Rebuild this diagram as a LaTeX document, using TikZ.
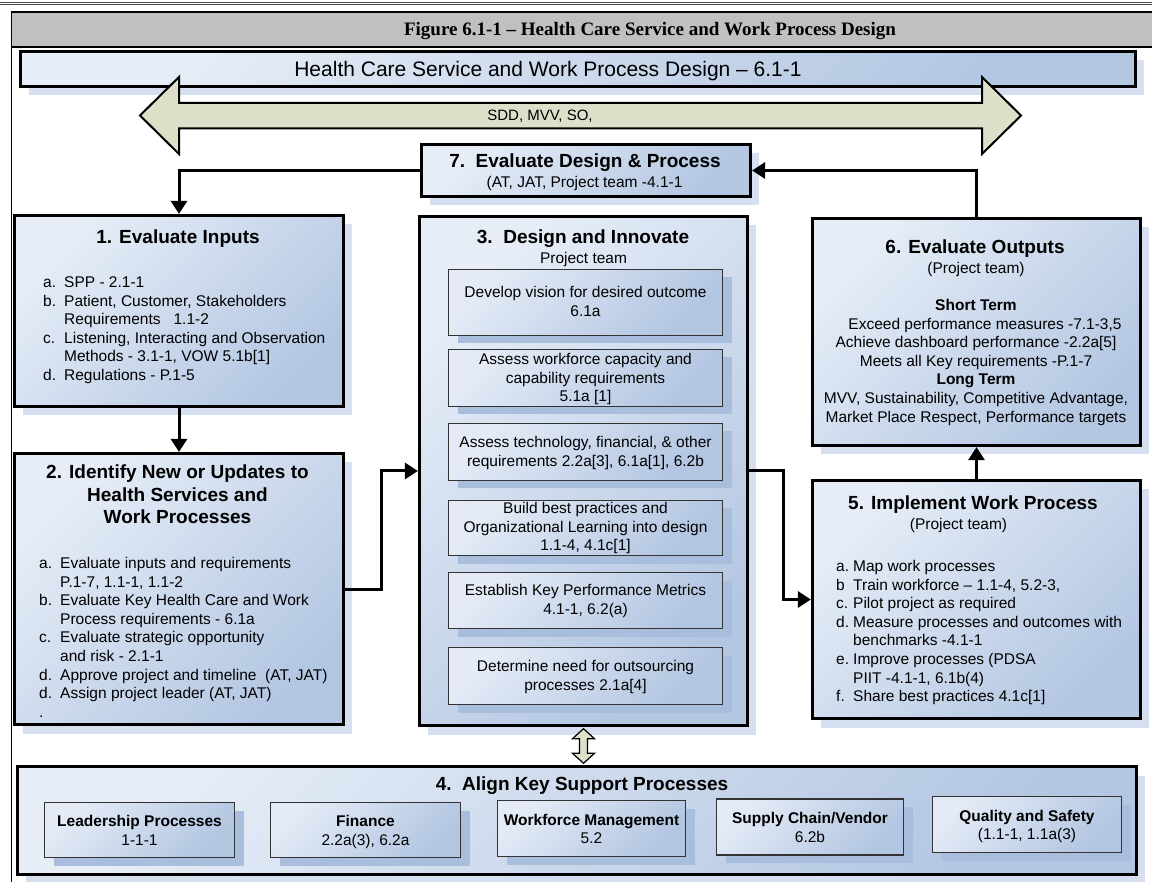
\documentclass[tikz,border=0pt]{standalone}
\usepackage{fontspec}
\setmainfont{Liberation Sans}
\newfontfamily\titleserif{Liberation Serif}
\usetikzlibrary{arrows.meta,shadows,calc}
\definecolor{hdrgray}{HTML}{C0C0C0}
\definecolor{bxlight}{HTML}{E6EDF7}
\definecolor{bxdark}{HTML}{B3C6E2}
\definecolor{shcol}{HTML}{D5DFEF}
\definecolor{ibl}{HTML}{E4EBF6}
\definecolor{ibd}{HTML}{B2C5E1}
\definecolor{ibsh}{HTML}{A9BEDC}
\definecolor{olivefill}{HTML}{DCE0C8}
\newcommand\bodyfont{\fontsize{15.5}{18.6}\selectfont}
\newcommand\headfont{\fontsize{19}{22.5}\selectfont\bfseries}
\newcommand\ltab[1]{\begin{tabular}[t]{@{}l@{}}#1\end{tabular}}
\newcommand\ctab[1]{\begin{tabular}[t]{@{}c@{}}#1\end{tabular}}
\newcommand\itm[2]{\makebox[#1][l]{#2}}
\begin{document}
\begin{tikzpicture}[x=1pt,y=-1pt,
  bigbox/.style={draw=black, line width=3.2pt, top color=bxlight, bottom color=bxdark, shading angle=45, inner sep=0pt,
    general shadow={fill=shcol, shadow xshift=8pt, shadow yshift=-9pt}},
  innerbox/.style={draw=black!80, line width=1.3pt, top color=ibl, bottom color=ibd, shading angle=45, inner sep=0pt,
    general shadow={fill=ibsh, shadow xshift=9pt, shadow yshift=-8pt}},
  conn/.style={line width=3pt, line join=miter, -{Triangle[length=13pt,width=16pt]}},
  txt/.style={inner sep=0pt, anchor=base, font=\bodyfont},
  ttl/.style={inner sep=0pt, anchor=base, font=\headfont},
  lst/.style={inner sep=0pt, anchor=base west, font=\bodyfont},
]
\useasboundingbox (0,0) rectangle (1152,882);
\fill[white] (0,0) rectangle (1152,882);
% top rule and table cell
\draw[line width=0.9pt, black!70] (0,2) -- (1152,2);
\draw[line width=0.9pt, black!70] (0,4.6) -- (1152,4.6);
\fill[hdrgray] (11.5,12) rectangle (1160,47);
\draw[line width=1.3pt] (1160,12) -- (11.5,12) -- (11.5,882);
\draw[line width=1.3pt] (11.5,47) -- (1160,47);
\node[inner sep=0pt, anchor=base] (hdr) at (650,35.5) {\titleserif\bfseries\fontsize{19}{22}\selectfont Figure 6.1-1 – Health Care Service and Work Process Design};

% banner
\node[bigbox, minimum width=1115pt, minimum height=35pt] (banner) at (578,69) {};
\node[txt] (bannert) at (548,76.5) {\fontsize{21}{25}\selectfont Health Care Service and Work Process Design – 6.1-1};

% big double arrow
\draw[line width=2pt, line join=miter, fill=olivefill] (140,115.5) -- (179,77) -- (179,103) -- (982,103) -- (982,77) -- (1021,115.5) -- (982,154) -- (982,128.5) -- (179,128.5) -- (179,154) -- cycle;
\node[txt] (sdd) at (540,121) {\fontsize{15}{18}\selectfont SDD, MVV, SO,};

% main boxes
\node[bigbox, minimum width=329pt, minimum height=52pt] (b7) at (586,170.5) {};
\node[bigbox, minimum width=329pt, minimum height=191pt] (b1) at (179,311) {};
\node[bigbox, minimum width=329pt, minimum height=271pt] (b2) at (179,589) {};
\node[bigbox, minimum width=328pt, minimum height=509pt] (b3) at (583.5,471) {};
\node[bigbox, minimum width=328pt, minimum height=227pt] (b6) at (976.5,332) {};
\node[bigbox, minimum width=328pt, minimum height=238pt] (b5) at (976.5,599.5) {};
\node[bigbox, minimum width=1119pt, minimum height=108pt] (b4) at (577,820.5) {};

% box 7 text
\node[ttl] (b7t) at (585,167.8) {7.\ \ Evaluate Design \& Process};
\node[txt] (b7s) at (584.5,187.5) {(AT, JAT, Project team -4.1-1};

% box 1 text
\node[ttl] (b1t) at (178,243.8) {1. Evaluate Inputs};
\node[lst] (b1l) at (43,287.5) {\ltab{\itm{21pt}{a.}SPP - 2.1-1\\
 \itm{21pt}{b.}Patient, Customer, Stakeholders\\
 \hspace*{21pt}Requirements\ \ \ 1.1-2\\
 \itm{21pt}{c.}Listening, Interacting and Observation\\
 \hspace*{21pt}Methods - 3.1-1, VOW 5.1b[1]\\
 \itm{21pt}{d.}Regulations - P.1-5}};

% box 2 text
\node[ttl] (b2t) at (177.5,478.8) {\ctab{2. Identify New or Updates to\\ Health Services and\\ Work Processes}};
\node[lst] (b2l) at (39,568.5) {\ltab{\itm{21pt}{a.}Evaluate inputs and requirements\\
 \hspace*{21pt}P.1-7, 1.1-1, 1.1-2\\
 \itm{21pt}{b.}Evaluate Key Health Care and Work\\
 \hspace*{21pt}Process requirements - 6.1a\\
 \itm{21pt}{c.}Evaluate strategic opportunity\\
 \hspace*{21pt}and risk - 2.1-1\\
 \itm{21pt}{d.}Approve project and timeline\ \ (AT, JAT)\\
 \itm{21pt}{d.}Assign project leader (AT, JAT)\\
 .}};

% box 3 text and inner boxes
\node[ttl] (b3t) at (583,243.8) {3.\ \ Design and Innovate};
\node[txt] (b3s) at (583.5,263.5) {Project team};
\node[innerbox, minimum width=274pt, minimum height=66pt] (ib1) at (585.5,302.5) {};
\node[innerbox, minimum width=274pt, minimum height=57pt] (ib2) at (585.5,378) {};
\node[innerbox, minimum width=274pt, minimum height=57pt] (ib3) at (585.5,452) {};
\node[innerbox, minimum width=274pt, minimum height=55pt] (ib4) at (585.5,528) {};
\node[innerbox, minimum width=274pt, minimum height=56pt] (ib5) at (585.5,600.5) {};
\node[innerbox, minimum width=274pt, minimum height=57pt] (ib6) at (585.5,676) {};
\node[txt] (ib1t) at (585.5,297.5) {\ctab{Develop vision for desired outcome\\ 6.1a}};
\node[txt] (ib2t) at (585.5,364.5) {\ctab{Assess workforce capacity and\\ capability requirements\\ 5.1a [1]}};
\node[txt] (ib3t) at (585.5,447.5) {\ctab{Assess technology, financial, \& other\\ requirements 2.2a[3], 6.1a[1], 6.2b}};
\node[txt] (ib4t) at (585.5,513.5) {\ctab{Build best practices and\\ Organizational Learning into design\\ 1.1-4, 4.1c[1]}};
\node[txt] (ib5t) at (585.5,595.5) {\ctab{Establish Key Performance Metrics\\ 4.1-1, 6.2(a)}};
\node[txt] (ib6t) at (585.5,671.5) {\ctab{Determine need for outsourcing\\ processes 2.1a[4]}};

% box 6 text
\node[ttl] (b6t) at (975,253.8) {6. Evaluate Outputs};
\node[txt] (b6s) at (976,273.5) {(Project team)};
\node[txt] (b6l) at (976,310.5) {\ctab{\textbf{Short Term}\\
 \hspace*{18pt}Exceed performance measures -7.1-3,5\\
 Achieve dashboard performance -2.2a[5]\\
 Meets all Key requirements -P.1-7\\
 \textbf{Long Term}\\
 MVV, Sustainability, Competitive Advantage,\\
 Market Place Respect, Performance targets}};

% box 5 text
\node[ttl] (b5t) at (973,509.8) {5. Implement Work Process};
\node[txt] (b5s) at (958.5,529.5) {(Project team)};
\node[lst] (b5l) at (836,571.5) {\ltab{\itm{17pt}{a.}Map work processes\\
 \itm{17pt}{b}Train workforce – 1.1-4, 5.2-3,\\
 \itm{17pt}{c.}Pilot project as required\\
 \itm{17pt}{d.}Measure processes and outcomes with\\
 \hspace*{17pt}benchmarks -4.1-1\\
 \itm{17pt}{e.}Improve processes (PDSA\\
 \hspace*{17pt}PIIT -4.1-1, 6.1b(4)\\
 \itm{17pt}{f.}Share best practices 4.1c[1]}};

% box 4 text and small boxes
\node[ttl] (b4t) at (582,790.8) {4.\ \ Align Key Support Processes};
\node[innerbox, minimum width=190pt, minimum height=55pt] (s1) at (139.5,830) {};
\node[innerbox, minimum width=190pt, minimum height=55pt] (s2) at (365.5,830) {};
\node[innerbox, minimum width=188pt, minimum height=56pt] (s3) at (591.5,828.5) {};
\node[innerbox, minimum width=187pt, minimum height=56pt] (s4) at (810,827) {};
\node[innerbox, minimum width=189pt, minimum height=56pt] (s5) at (1027,824.5) {};
\node[txt] (s1t) at (139.5,826.5) {\ctab{\textbf{Leadership Processes}\\ 1-1-1}};
\node[txt] (s2t) at (365.5,826.5) {\ctab{\textbf{Finance}\\ 2.2a(3), 6.2a}};
\node[txt] (s3t) at (591.5,825) {\ctab{\textbf{Workforce Management}\\ 5.2}};
\node[txt] (s4t) at (810,823.5) {\ctab{\textbf{Supply Chain/Vendor}\\ 6.2b}};
\node[txt] (s5t) at (1027,821) {\ctab{\textbf{Quality and Safety}\\ (1.1-1, 1.1a(3)}};

% connectors
\draw[conn] (b7.west) -| (b1.north);
\draw[conn] (b6.north) |- (b7.east);
\draw[conn] (b1.south) -- (b2.north);
\draw[conn] (b2.east) -- ++(36,0) |- (b3.west);
\draw[conn] (b3.east) -- ++(34,0) |- (b5.west);
\draw[conn] (b5.north) -- (b6.south);

% hollow double arrow between box 3 and box 4
\coordinate (ha1) at ($(b3.south)+(0,1.6)$);
\coordinate (ha2) at ($(b3.south |- b4.north)+(0,-1.6)$);
\draw[line width=1.2pt, line join=miter, fill=olivefill] let \p1=(ha1), \p2=(ha2) in
  (\x1,\y1) -- (\x1+11pt,\y1-10pt) -- (\x1+4pt,\y1-10pt) -- (\x1+4pt,\y2+10pt) -- (\x1+11pt,\y2+10pt)
  -- (\x1,\y2) -- (\x1-11pt,\y2+10pt) -- (\x1-4pt,\y2+10pt) -- (\x1-4pt,\y1-10pt) -- (\x1-11pt,\y1-10pt) -- cycle;
\end{tikzpicture}
\end{document}
